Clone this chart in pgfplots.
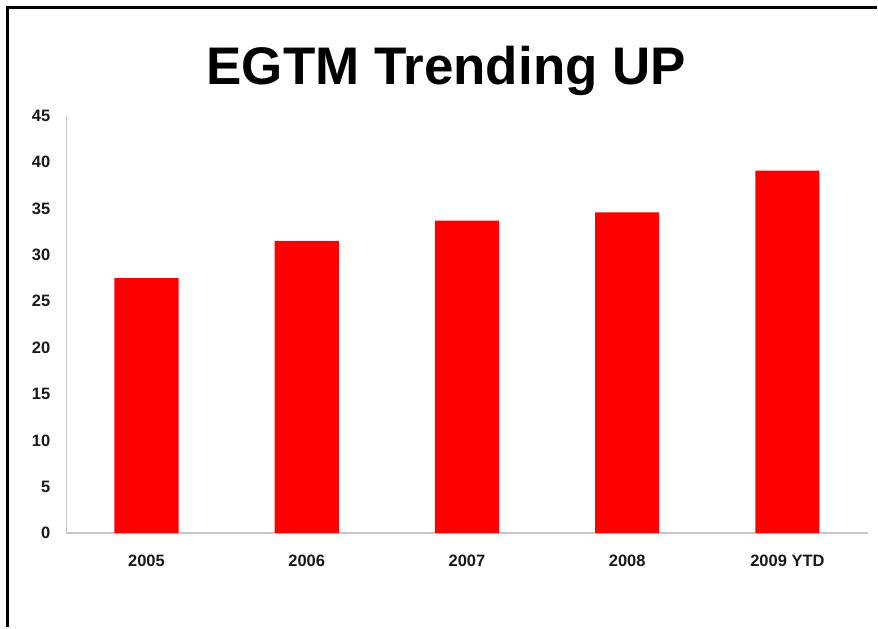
\documentclass[border=0pt]{standalone}
\usepackage{fontspec}
\setmainfont{Liberation Sans}
\usepackage{pgfplots}
\pgfplotsset{compat=1.18}
\begin{document}
\begin{tikzpicture}[x=1pt,y=1pt]
\path[fill=white] (0,0) rectangle (878,-628);
\draw[line width=3pt] (8,-628) -- (8,-8) -- (878,-8);
\node[anchor=base, inner sep=0pt, font=\fontsize{53}{60}\selectfont\bfseries] at (447,-85) {EGTM Trending UP};
\begin{axis}[
  at={(66.5pt,-534pt)}, anchor=south west,
  scale only axis, width=802.5pt, height=418pt,
  xmin=-0.5, xmax=4.5, ymin=0, ymax=45,
  axis lines*=left,
  axis line style={draw=black!22, line width=1.5pt},
  xtick={0,1,2,3,4},
  xticklabels={2005,2006,2007,2008,2009 YTD},
  ytick={0,5,...,45},
  major tick length=0pt,
  tick label style={font=\fontsize{16.5}{18}\selectfont\bfseries, text=black!90},
  /pgf/number format/assume math mode=true,
  yticklabel style={anchor=east, inner sep=0pt, xshift=-16pt},
  xticklabel style={anchor=base, inner sep=0pt, yshift=-33pt},
  ybar, bar width=64.2pt,
]
\addplot[fill=red, draw=none] coordinates {(0,27.5) (1,31.5) (2,33.7) (3,34.6) (4,39.1)};
\end{axis}
\end{tikzpicture}
\end{document}
